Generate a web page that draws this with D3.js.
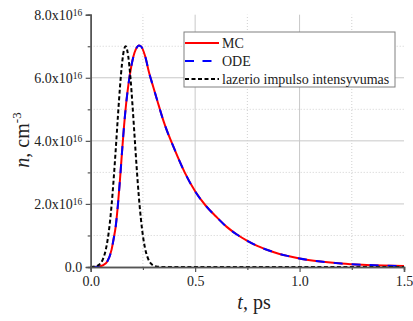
<!DOCTYPE html>
<html><head><meta charset="utf-8">
<script src="https://cdn.jsdelivr.net/npm/d3@7"></script>
<style>body{margin:0;background:#fff}svg{display:block}</style>
</head><body>
<svg id="c" width="413" height="321"></svg>
<script>
// ---- data (n in units of 1e16 cm^-3, t in ps) ----
const timeN = [0,0.02,0.04,0.06,0.08,0.10,0.11,0.12,0.13,0.14,0.15,0.16,0.17,0.18,0.19,0.20,0.21,0.22,0.23,0.24,0.26,0.28,0.30,0.32,0.35,0.40,0.45,0.50,0.55,0.60,0.65,0.70,0.75,0.80,0.85,0.90,0.95,1.00,1.10,1.20,1.30,1.40,1.50];
const nMC  = [0,0.003,0.02,0.06,0.18,0.55,0.9,1.3,1.95,2.75,3.65,4.5,5.2,5.75,6.2,6.55,6.8,6.95,7.02,7.0,6.7,6.15,5.7,5.25,4.6,3.75,3.0,2.4,1.95,1.6,1.28,1.03,0.83,0.66,0.53,0.42,0.34,0.27,0.175,0.11,0.07,0.045,0.03];
const nODE = [0,0.003,0.02,0.06,0.18,0.55,0.9,1.3,1.95,2.75,3.65,4.5,5.2,5.75,6.2,6.55,6.8,6.95,7.02,7.0,6.7,6.15,5.7,5.25,4.6,3.75,3.0,2.4,1.95,1.6,1.28,1.03,0.83,0.66,0.53,0.42,0.34,0.27,0.175,0.11,0.07,0.045,0.03];
const timeLaser = [0,0.02,0.04,0.06,0.07,0.08,0.09,0.10,0.11,0.12,0.13,0.14,0.15,0.16,0.167,0.17,0.18,0.19,0.20,0.21,0.22,0.23,0.24,0.25,0.26,0.27,0.28,0.29,0.30,0.32,0.34,0.40,0.60,0.80,1.00,1.20,1.40,1.50];
const laserI = [0.003,0.015,0.072,0.273,0.486,0.819,1.30,1.96,2.79,3.74,4.75,5.69,6.45,6.90,7.0,6.98,6.67,6.03,5.14,4.15,3.16,2.27,1.55,0.99,0.60,0.35,0.19,0.10,0.047,0.009,0.0014,0,0,0,0,0,0,0];
const seriesNames = ["MC","ODE","lazerio impulso intensyvumas"];
const xMajor = [0,0.5,1.0,1.5];
const xMajorLabels = ["0.0","0.5","1.0","1.5"];
const xMinor = [0.25,0.75,1.25];
const yMajor = [0,2,4,6,8];
const yMajorLabels = ["0.0","2.0","4.0","6.0","8.0"];
const yExponent = "16";
const yMinor = [1,3,5,7];

// ---- layout ----
const svg = d3.select("#c");
const FONT = "'Liberation Serif','Times New Roman',serif";
const x = d3.scaleLinear().domain([0,1.5]).range([90.7,404]);
const y = d3.scaleLinear().domain([0,8]).range([267,14.7]);

// grid
const g = svg.append("g");
g.selectAll(".gym").data(yMajor.filter(v=>v>0&&v<8)).join("line")
  .attr("x1",x(0)).attr("x2",x(1.5)).attr("y1",d=>y(d)).attr("y2",d=>y(d))
  .attr("stroke","#c8c8c8").attr("stroke-width",1);
g.selectAll(".gyn").data(yMinor).join("line")
  .attr("x1",x(0)).attr("x2",x(1.5)).attr("y1",d=>y(d)).attr("y2",d=>y(d))
  .attr("stroke","#d0d0d0").attr("stroke-width",1).attr("stroke-dasharray","1,2");
g.selectAll(".gxm").data(xMajor.filter(v=>v>0&&v<1.5)).join("line")
  .attr("x1",d=>x(d)).attr("x2",d=>x(d)).attr("y1",y(0)).attr("y2",y(8))
  .attr("stroke","#c8c8c8").attr("stroke-width",1);
g.selectAll(".gxn").data(xMinor).join("line")
  .attr("x1",d=>x(d)).attr("x2",d=>x(d)).attr("y1",y(0)).attr("y2",y(8))
  .attr("stroke","#d0d0d0").attr("stroke-width",1).attr("stroke-dasharray","1,2");

// curves
const line = (xs,ys)=>d3.line().x((d,i)=>x(xs[i])).y(d=>y(d)).curve(d3.curveMonotoneX)(ys);
svg.append("path").attr("d",line(timeN,nMC)).attr("fill","none").attr("stroke","#ff0000").attr("stroke-width",2);
svg.append("path").attr("d",line(timeN,nODE)).attr("fill","none").attr("stroke","#0000ff").attr("stroke-width",2).attr("stroke-dasharray","9,9");
svg.append("path").attr("d",line(timeLaser,laserI)).attr("fill","none").attr("stroke","#000").attr("stroke-width",2).attr("stroke-dasharray","4,2.5");

// axes
const axisColor = "#555";
const ax = svg.append("g").attr("transform",`translate(0,${y(0)})`)
  .call(d3.axisBottom(x).tickValues(xMajor).tickSize(5).tickPadding(4).tickFormat((d,i)=>xMajorLabels[i]));
ax.append("g").call(d3.axisBottom(x).tickValues(xMinor).tickSize(3).tickFormat(""));
const ay = svg.append("g").attr("transform",`translate(${x(0)},0)`)
  .call(d3.axisLeft(y).tickValues(yMajor).tickSize(5).tickPadding(4).tickFormat(""));
ay.append("g").call(d3.axisLeft(y).tickValues(yMinor).tickSize(3).tickFormat(""));
[ax,ay].forEach(a=>{
  a.selectAll(".domain").attr("stroke",axisColor).attr("stroke-width",1.5);
  a.selectAll(".tick line").attr("stroke",axisColor).attr("stroke-width",1.2);
  a.selectAll("text").attr("font-family",FONT).attr("font-size",14).attr("fill","#222");
});
// y tick labels with superscript
ay.selectAll(".tick").filter(d=>yMajor.includes(d)).each(function(d){
  const i = yMajor.indexOf(d);
  const t = d3.select(this).append("text").attr("x",-8.5).attr("dy","0.35em")
    .attr("text-anchor","end").attr("font-family",FONT).attr("font-size",14).attr("fill","#222");
  if (d===0) { t.text(yMajorLabels[i]); }
  else {
    t.append("tspan").text(yMajorLabels[i]+"x10");
    t.append("tspan").attr("font-size",9.5).attr("dy","-0.45em").text(yExponent);
  }
});
// axis titles
svg.append("text").attr("x",254).attr("y",309).attr("text-anchor","middle")
  .attr("font-family",FONT).attr("font-size",20).attr("fill","#222")
  .call(t=>{t.append("tspan").attr("font-style","italic").text("t");t.append("tspan").text(", ps");});
svg.append("text").attr("transform","translate(29,140) rotate(-90)").attr("text-anchor","middle")
  .attr("font-family",FONT).attr("font-size",20).attr("fill","#222")
  .call(t=>{t.append("tspan").attr("font-style","italic").text("n");t.append("tspan").text(", cm");
    t.append("tspan").attr("font-size",13).attr("dy","-0.6em").text("-3");});

// legend
const lg = svg.append("g");
lg.append("rect").attr("x",184).attr("y",32).attr("width",211).attr("height",55)
  .attr("fill","#fff").attr("stroke","#808080").attr("stroke-width",1);
const styles = [{c:"#ff0000",d:null},{c:"#0000ff",d:"9,8.5"},{c:"#000",d:"4,2.5"}];
seriesNames.forEach((name,i)=>{
  const yy = 43 + i*18;
  lg.append("line").attr("x1",185).attr("x2",219).attr("y1",yy).attr("y2",yy)
    .attr("stroke",styles[i].c).attr("stroke-width",2).attr("stroke-dasharray",styles[i].d);
  lg.append("text").attr("x",222).attr("y",yy+5).attr("font-family",FONT).attr("font-size",14)
    .attr("fill","#222").text(name);
});
</script>
</body></html>
